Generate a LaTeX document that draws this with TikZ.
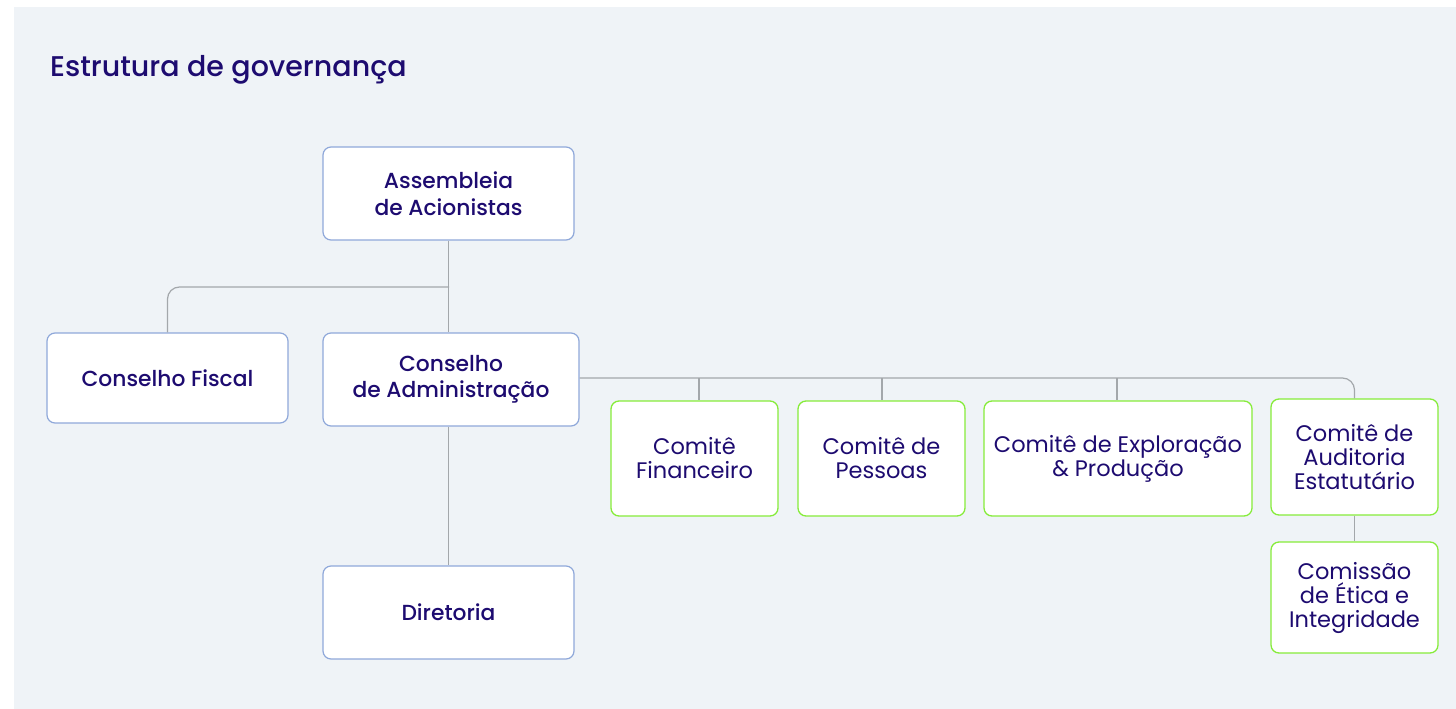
\documentclass[tikz,border=0pt]{standalone}
\usepackage{fontspec}
\setmainfont{Poppins}[BoldFont={Poppins Medium}]
\definecolor{bgc}{HTML}{EFF3F7}
\definecolor{txt}{HTML}{1D0B70}
\definecolor{blueb}{HTML}{8FA8DA}
\definecolor{greenb}{HTML}{86EC3A}
\definecolor{connc}{HTML}{A3A7AB}
\tikzset{
  box/.style={draw=blueb, fill=white, line width=1.2pt, rounded corners=8pt, align=center,
    text=txt, font=\fontsize{21.8}{26.5}\selectfont\bfseries, inner sep=0pt},
  gbox/.style={draw=greenb, fill=white, line width=1.3pt, rounded corners=8pt, align=center,
    text=txt, font=\fontsize{22.5}{24}\selectfont, inner sep=0pt},
  conn/.style={draw=connc, line width=1.2pt},
}
\begin{document}
\begin{tikzpicture}[x=1pt,y=-1pt]
\useasboundingbox (0,0) rectangle (1456,709);
\fill[bgc] (14,7) rectangle (1456,709);
\node[anchor=base west, text=txt, font=\fontsize{28.5}{32}\selectfont\bfseries, inner sep=0pt] (title) at (50,76.5) {Estrutura de governança};

\node[box, minimum width=251pt, minimum height=93pt] (asm) at (448.5,193.5) {Assembleia\\de Acionistas};
\node[box, minimum width=241pt, minimum height=90pt] (fis) at (167.5,378) {Conselho Fiscal};
\node[box, minimum width=256pt, minimum height=93pt] (ca) at (451,379.5) {Conselho\\de Administração};
\node[box, minimum width=251pt, minimum height=93pt] (dir) at (448.5,612.5) {Diretoria};

\node[gbox, minimum width=167pt, minimum height=115pt] (fin) at (694.5,458.5) {Comitê\\Financeiro};
\node[gbox, minimum width=167pt, minimum height=115pt] (pes) at (881.5,458.5) {Comitê de\\Pessoas};
\node[gbox, minimum width=268pt, minimum height=115pt] (exp) at (1118,458.5) {Comitê de Exploração\\\& Produção};
\node[gbox, minimum width=167pt, minimum height=116pt] (aud) at (1354.5,457) {Comitê de\\Auditoria\\Estatutário};
\node[gbox, minimum width=167pt, minimum height=111pt] (com) at (1354.5,597.5) {Comissão\\de Ética e\\Integridade};

\coordinate (j1) at (449,287);
\coordinate (j2) at (0,378);
\coordinate (b1) at (699,378);
\coordinate (b2) at (882,378);
\coordinate (b3) at (1117,378);

\draw[conn] (asm.south) -- (asm.south |- ca.north);
\draw[conn, rounded corners=12pt] (j1) -- (j1 -| fis.north) -- (fis.north);
\draw[conn, rounded corners=12pt] (ca.east |- j2) -- (aud.north |- j2) -- (aud.north);
\draw[conn] (b1) -- (b1 |- fin.north);
\draw[conn] (b2) -- (b2 |- pes.north);
\draw[conn] (b3) -- (b3 |- exp.north);
\draw[conn] (aud.south) -- (com.north);
\draw[conn] (ca.south -| asm.south) -- (dir.north -| asm.south);
\end{tikzpicture}
\end{document}
